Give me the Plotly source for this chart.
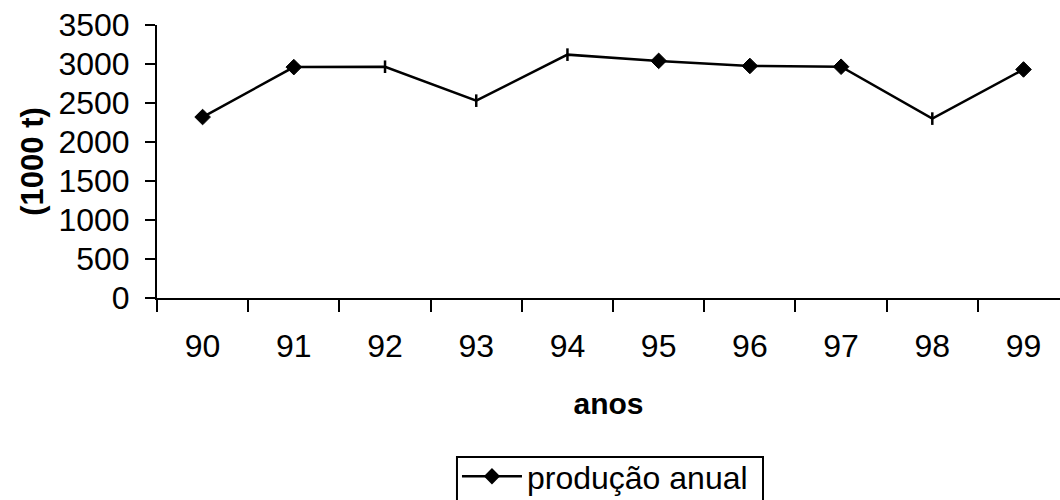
import plotly.graph_objects as go

anos = ["90", "91", "92", "93", "94", "95", "96", "97", "98", "99"]
producao = [2320, 2960, 2965, 2530, 3120, 3040, 2975, 2965, 2300, 2930]
simbolos = ["diamond", "diamond", "line-ns", "line-ns", "line-ns",
            "diamond", "diamond", "diamond", "line-ns", "diamond"]
y_ticks = [0, 500, 1000, 1500, 2000, 2500, 3000, 3500]

FONT = "Arial, Liberation Sans, sans-serif"

sizes = [12 if s == "diamond" else 9 for s in simbolos]
lw = [1 if s == "diamond" else 2.5 for s in simbolos]

fig = go.Figure()
fig.add_trace(go.Scatter(
    x=anos, y=producao, mode="lines+markers", name="produção anual",
    line=dict(color="black", width=2.5),
    marker=dict(symbol=simbolos, size=sizes, color="black", opacity=1,
                line=dict(color="black", width=lw)),
))

# legend frame (partly below the visible area, as in the reference)
fig.add_shape(type="rect", xref="paper", yref="paper",
              x0=0.3322, x1=0.6711, y0=-0.5824, y1=-0.75,
              line=dict(color="black", width=2), fillcolor="rgba(0,0,0,0)")

fig.update_layout(
    width=1060, height=500,
    margin=dict(l=157, r=0, t=25, b=202, autoexpand=False),
    paper_bgcolor="white", plot_bgcolor="white",
    font=dict(family=FONT, size=32, color="black"),
    showlegend=True,
    legend=dict(x=0.3322, y=-0.553, xanchor="left", yanchor="top",
                borderwidth=0, itemwidth=60, bgcolor="rgba(0,0,0,0)",
                font=dict(size=32)),
    xaxis=dict(type="category", range=[-0.5, 9.4], tickson="boundaries",
               showline=True, linecolor="black", linewidth=2,
               ticks="outside", ticklen=12, tickwidth=2, tickcolor="black",
               ticklabelstandoff=19, showgrid=False, zeroline=False,
               title=dict(text="<b>anos</b>", standoff=30,
                          font=dict(family=FONT, size=30, color="black"))),
    yaxis=dict(range=[0, 3500], tickvals=y_ticks,
               showline=True, linecolor="black", linewidth=2,
               ticks="outside", ticklen=10, tickwidth=2, tickcolor="black",
               ticklabelstandoff=9, showgrid=False, zeroline=False,
               title=dict(text="<b>(1000 t)</b>", standoff=6,
                          font=dict(family=FONT, size=31, color="black"))),
)

fig.write_html("out.html")
